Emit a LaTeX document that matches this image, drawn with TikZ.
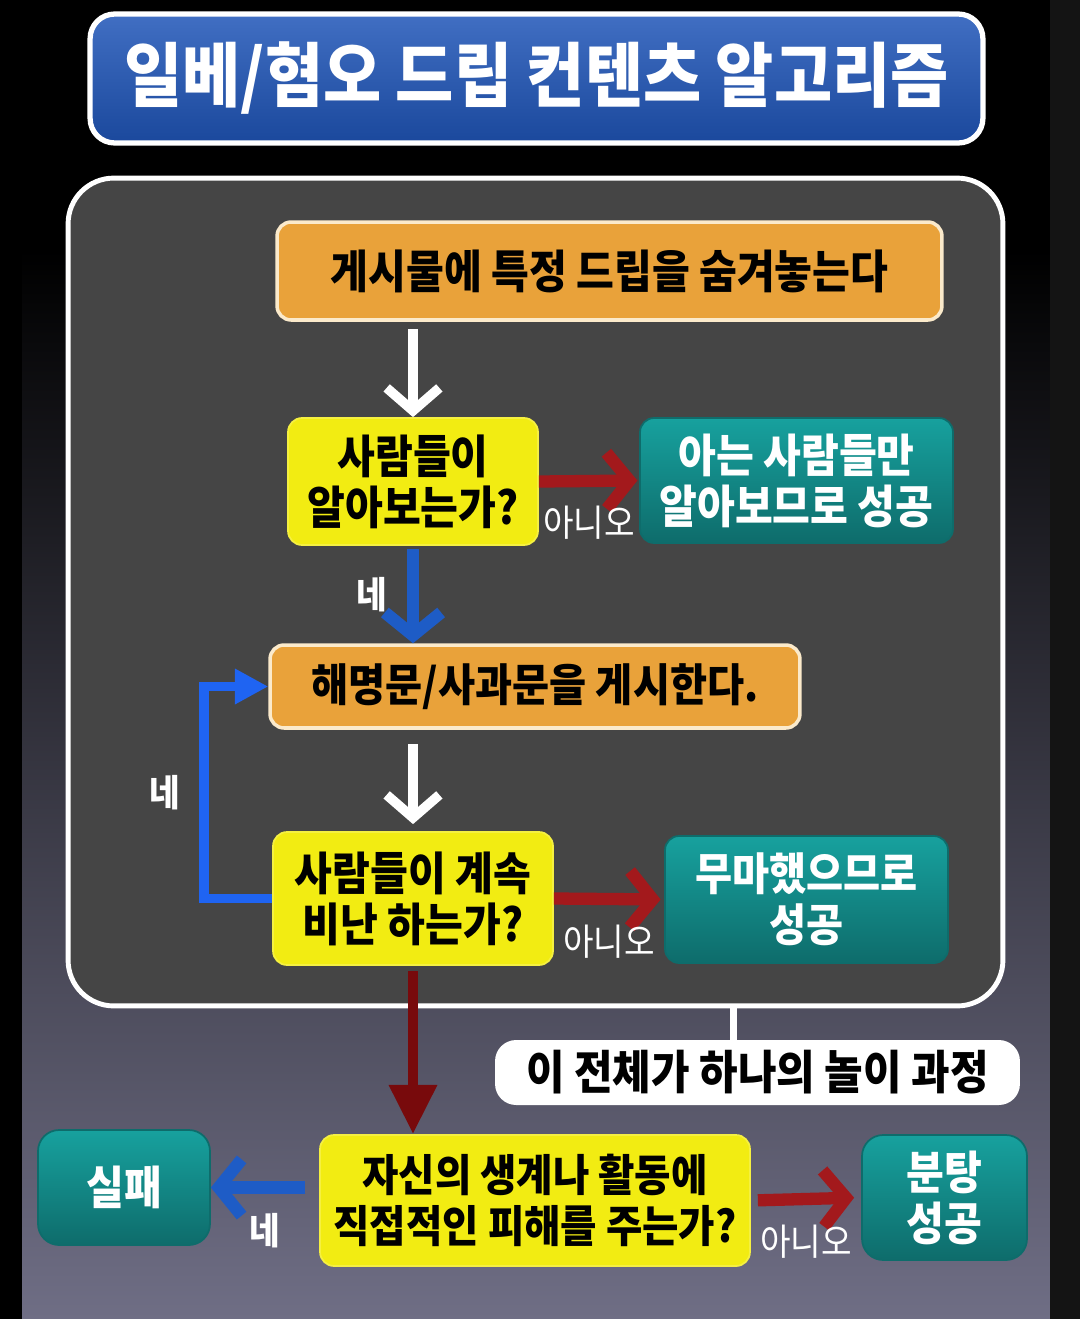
\documentclass[tikz,border=0pt]{standalone}
\usepackage{fontspec}
\setmainfont{Noto Sans CJK KR}[FakeStretch=0.9]
\usetikzlibrary{arrows.meta}

\definecolor{titleblue}{HTML}{1F55B8}
\definecolor{panelgrey}{HTML}{454545}
\definecolor{actorange}{HTML}{E9A23A}
\definecolor{actrim}{HTML}{FBEACB}
\definecolor{askyellow}{HTML}{F2EC12}
\definecolor{tealtop}{HTML}{17A19E}
\definecolor{tealbot}{HTML}{0E6C6B}
\definecolor{nored}{HTML}{A3191C}
\definecolor{downred}{HTML}{780A0C}
\definecolor{yesblue}{HTML}{1E5CC6}
\definecolor{loopblue}{HTML}{1F64F2}
\definecolor{bgnavy}{HTML}{22224C}
\definecolor{bggrey}{HTML}{6F6E85}

\begin{document}
\begin{tikzpicture}[x=0.02cm, y=-0.02cm]
    \tikzstyle{box}=[rounded corners=8pt, inner sep=0pt, align=center, font=\bfseries]
    \tikzstyle{act}=[box, fill=actorange, draw=actrim, line width=2pt, text=black]
    \tikzstyle{ask}=[box, fill=askyellow, draw=askyellow!80!white, line width=1pt, text=black]
    \tikzstyle{result}=[box, top color=tealtop, bottom color=tealbot, draw=tealbot, line width=1pt, text=white]
    \tikzstyle{next}=[-{Straight Barb[length=13pt,width=30pt]}, line width=5.5pt, draw=white]
    \tikzstyle{yes}=[-{Straight Barb[length=13pt,width=32pt]}, line width=7pt, draw=yesblue]
    \tikzstyle{no}=[-{Straight Barb[length=13pt,width=32pt]}, line width=7pt, draw=nored]
    \tikzstyle{lbl}=[text=white, inner sep=1pt, font=\fontsize{21}{23}\selectfont]
    \tikzstyle{yeslbl}=[lbl, font=\bfseries\fontsize{21}{23}\selectfont]

    \useasboundingbox (0,0) rectangle (1080,1319);

    % background
    \fill[black] (0,0) rectangle (1080,1319);
    \shade[top color=black, middle color=bgnavy, bottom color=bggrey] (22,250) rectangle (1050,1319);
    \fill[black!92] (1050,0) rectangle (1080,1319);

    % title
    \node (title) at (536.5,78.5) [box, rounded corners=14pt, top color=titleblue!85!white, bottom color=titleblue!85!black,
        draw=white, line width=3pt, text=white, minimum width=17.86cm, minimum height=2.58cm,
        font=\bfseries\fontsize{40}{44}\selectfont] {일베/혐오 드립 컨텐츠 알고리즘};

    % panel round the game
    \node (panel) at (535.5,592) [rounded corners=26pt, fill=panelgrey, draw=white, line width=2.8pt,
        minimum width=18.7cm, minimum height=16.56cm] {};

    \node (post) at (609.5,271) [act, minimum width=13.3cm, minimum height=1.96cm,
        font=\bfseries\fontsize{26}{28}\selectfont] {게시물에 특정 드립을 숨겨놓는다};
    \node (q1) at (413,481.5) [ask, minimum width=5cm, minimum height=2.54cm,
        font=\bfseries\fontsize{26}{29}\selectfont] {사람들이\\알아보는가?};
    \node (a1) at (796.5,480.5) [result, minimum width=6.26cm, minimum height=2.5cm,
        font=\bfseries\fontsize{26}{29}\selectfont] {아는 사람들만\\알아보므로 성공};
    \node (explain) at (535,686.5) [act, minimum width=10.6cm, minimum height=1.66cm,
        font=\bfseries\fontsize{25.5}{28}\selectfont] {해명문/사과문을 게시한다.};
    \node (q2) at (413,898.5) [ask, minimum width=5.6cm, minimum height=2.66cm,
        font=\bfseries\fontsize{26}{29}\selectfont] {사람들이 계속\\비난 하는가?};
    \node (a2) at (806.5,899.5) [result, minimum width=5.66cm, minimum height=2.54cm,
        font=\bfseries\fontsize{25.5}{29}\selectfont] {무마했으므로\\성공};

    % below the panel
    \node (note) at (757.5,1072.5) [box, rounded corners=12pt, fill=white, minimum width=10.5cm, minimum height=1.3cm,
        font=\bfseries\fontsize{26.5}{29}\selectfont] {이 전체가 하나의 놀이 과정};
    \node (q3) at (535,1200.5) [ask, minimum width=8.6cm, minimum height=2.62cm,
        font=\bfseries\fontsize{25}{29}\selectfont] {자신의 생계나 활동에\\직접적인 피해를 주는가?};
    \node (fail) at (124,1187.5) [result, rounded corners=12pt, minimum width=3.44cm, minimum height=2.3cm,
        font=\bfseries\fontsize{26}{29}\selectfont] {실패};
    \node (win) at (944.5,1197.5) [result, rounded corners=12pt, minimum width=3.3cm, minimum height=2.5cm,
        font=\bfseries\fontsize{26}{29}\selectfont] {분탕\\성공};

    \draw [next, shorten <=4pt] (post.south -| q1.north) to (q1.north);
    \draw [no, shorten >=1pt] (q1.east) to node [lbl, below=10pt] {아니오} (a1.west);
    \draw [yes, shorten <=2pt] (q1.south) to node [yeslbl, left=10pt] {네} (q1.south |- explain.north);
    \draw [next, shorten <=8pt, shorten >=4pt] (explain.south -| q2.north) to (q2.north);
    \draw [no, shorten >=2pt] (q2.east) to node [lbl, below=10pt] {아니오} (a2.west);
    \draw [-{Triangle[length=19pt,width=19pt]}, line width=5.5pt, draw=loopblue, line join=miter]
        (q2.west) -- ++(-68,0) |- node [yeslbl, pos=0.25, left=10pt] {네} (explain.west);
    \draw [-{Triangle[length=28pt,width=26pt]}, line width=6pt, draw=downred, shorten <=3pt]
        (q2.south) to (q2.south |- q3.north);
    \draw [white, line width=4.5pt] ([xshift=-24*0.02cm]note.north) to ([xshift=-24*0.02cm]note.north |- panel.south);
    \draw [yes, shorten <=8pt] (q3.west |- fail.east) to node [yeslbl, below=10pt] {네} (fail.east);
    \draw [no, shorten <=4pt, shorten >=4pt] (q3.east) to node [lbl, below=10pt] {아니오} (win.west);
\end{tikzpicture}
\end{document}
